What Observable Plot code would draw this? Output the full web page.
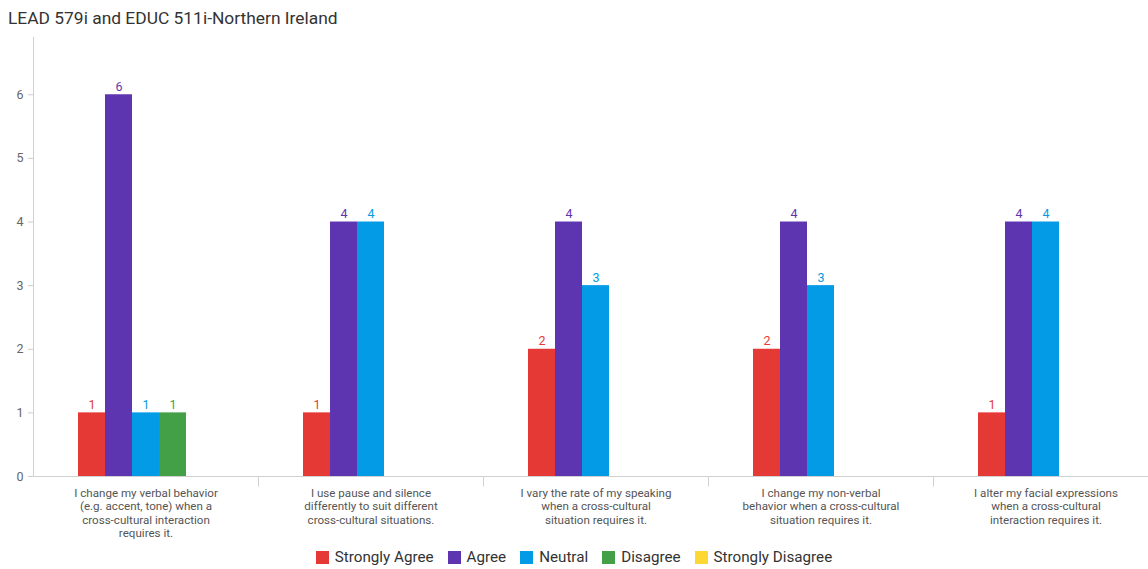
<!DOCTYPE html>
<html>
<head>
<meta charset="utf-8">
<script src="https://cdn.jsdelivr.net/npm/d3@7"></script>
<script src="https://cdn.jsdelivr.net/npm/@observablehq/plot@0.6"></script>
<style>
  html, body { margin: 0; padding: 0; background: #fff; }
  body { width: 1148px; height: 569px; overflow: hidden; font-family: Roboto, "Noto Sans", sans-serif; }
  #title { height: 30px; line-height: 30px; padding-top: 3px; padding-left: 8px; font-size: 17.4px; color: #333; }
  #chart svg { display: block; }
  #legend { display: flex; justify-content: center; align-items: center; height: 24px; font-size: 15.2px; color: #333; }
  #legend .item { display: flex; align-items: center; margin: 0 7px; }
  #legend .sw { width: 13px; height: 13px; margin-right: 6px; }
</style>
</head>
<body>
<div id="title">LEAD 579i and EDUC 511i-Northern Ireland</div>
<div id="chart"></div>
<div id="legend"></div>
<script>
const questions = [
  "I change my verbal behavior (e.g. accent, tone) when a cross-cultural interaction requires it.",
  "I use pause and silence differently to suit different cross-cultural situations.",
  "I vary the rate of my speaking when a cross-cultural situation requires it.",
  "I change my non-verbal behavior when a cross-cultural situation requires it.",
  "I alter my facial expressions when a cross-cultural interaction requires it."
];
const questionLabels = [
  "I change my verbal behavior\n(e.g. accent, tone) when a\ncross-cultural interaction\nrequires it.",
  "I use pause and silence\ndifferently to suit different\ncross-cultural situations.",
  "I vary the rate of my speaking\nwhen a cross-cultural\nsituation requires it.",
  "I change my non-verbal\nbehavior when a cross-cultural\nsituation requires it.",
  "I alter my facial expressions\nwhen a cross-cultural\ninteraction requires it."
];
const responses = ["Strongly Agree", "Agree", "Neutral", "Disagree", "Strongly Disagree"];
const responseColors = ["#e53935", "#5e35b1", "#039be5", "#43a047", "#fdd835"];
const stronglyAgree = [1, 1, 2, 2, 1];
const agree = [6, 4, 4, 4, 4];
const neutral = [1, 4, 3, 3, 4];
const disagree = [1, 0, 0, 0, 0];
const stronglyDisagree = [0, 0, 0, 0, 0];
const yTicks = [0, 1, 2, 3, 4, 5, 6];

const seriesValues = [stronglyAgree, agree, neutral, disagree, stronglyDisagree];
const rows = [];
questions.forEach((q, i) => {
  responses.forEach((r, j) => {
    const v = seriesValues[j][i];
    if (v > 0) rows.push({question: q, response: r, value: v});
  });
});
const labelOf = new Map(questions.map((q, i) => [q, questionLabels[i]]));

const guides = Plot.frame({
  facet: "super",
  render(index, scales, values, dimensions) {
    const {fx, y} = scales;
    const g = d3.create("svg:g").attr("stroke", "#d0d0d0").attr("stroke-width", 1).attr("fill", "none");
    const left = dimensions.marginLeft + 0.5;
    const y0 = Math.round(y(0)) + 0.5;
    g.append("line").attr("x1", left).attr("x2", left).attr("y1", dimensions.marginTop).attr("y2", y0);
    g.append("line").attr("x1", left).attr("x2", dimensions.width).attr("y1", y0).attr("y2", y0);
    questions.slice(1).forEach(q => {
      const x = Math.round(fx(q)) + 0.5;
      g.append("line").attr("x1", x).attr("x2", x).attr("y1", y0).attr("y2", y0 + 10);
    });
    return g.node();
  }
});

const plot = Plot.plot({
  width: 1148,
  height: 512,
  marginLeft: 33,
  marginRight: -10,
  marginTop: 4,
  marginBottom: 69,
  style: {fontFamily: "Roboto, 'Noto Sans', sans-serif", background: "#fff"},
  fx: {domain: questions, padding: 0, label: null},
  x: {domain: responses, paddingInner: 0, paddingOuter: 1.6, axis: null},
  y: {domain: [0, 6.9], label: null},
  color: {domain: responses, range: responseColors},
  marks: [
    Plot.barY(rows, {fx: "question", x: "response", y: "value", fill: "response", inset: 0}),
    Plot.text(rows, {fx: "question", x: "response", y: "value", text: d => String(d.value), fill: "response", lineAnchor: "bottom", dy: -4, fontSize: 12.5}),
    Plot.axisY({ticks: yTicks, tickFormat: d => String(d), tickSize: 5, tickPadding: 5, stroke: "#ccc", fill: "#666", fontSize: 12.5, label: null}),
    Plot.axisFx({anchor: "bottom", tickSize: 0, tickPadding: 11, tickFormat: q => labelOf.get(q), fontSize: 11.6, lineHeight: 1.15, fill: "#555", label: null}),
    guides
  ]
});
document.getElementById("chart").appendChild(plot);

const legend = document.getElementById("legend");
responses.forEach((r, i) => {
  const item = document.createElement("div");
  item.className = "item";
  const sw = document.createElement("span");
  sw.className = "sw";
  sw.style.background = responseColors[i];
  const t = document.createElement("span");
  t.textContent = r;
  item.appendChild(sw);
  item.appendChild(t);
  legend.appendChild(item);
});
</script>
</body>
</html>
